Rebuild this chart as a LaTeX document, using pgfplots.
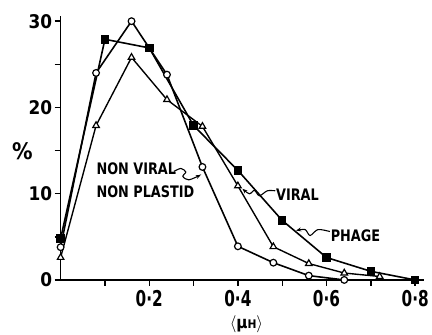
\documentclass[border=0pt]{standalone}
\usepackage{pgfplots}
\pgfplotsset{compat=1.18}
\usepackage{fontspec}
\setmainfont{DejaVu Sans Condensed}
\newfontfamily\annfont{DejaVu Sans Condensed}[FakeStretch=0.9]
\newfontfamily\xtfont{DejaVu Sans Condensed}[FakeStretch=0.78]
\usetikzlibrary{arrows.meta}

\begin{document}
\begin{tikzpicture}
\begin{axis}[name=ax, scale only axis, width=365.7bp, height=265.6bp,
  xmin=0, xmax=0.82, ymin=0, ymax=30.6,
  axis lines=left, axis line style={-, line width=1.6pt},
  tick style={line width=1.4pt, black}, tick align=outside,
  major tick length=6bp, minor tick length=6bp,
  xtick={0.2,0.4,0.6,0.8}, xticklabels={0·2,0·4,0·6,0·8},
  minor xtick={0.1,0.3,0.5,0.7},
  ytick={0,10,20,30}, yticklabels={0,10,20,30},
  minor ytick={5,15,25},
  yticklabel style={font=\fontsize{19}{19}\selectfont\bfseries, xshift=1bp},
  xticklabel style={font=\xtfont\fontsize{22}{22}\selectfont\bfseries, yshift=-1bp},
  clip=false]
\addplot[black, line width=1.6pt, mark=square*, mark size=3.5pt, mark options={fill=black, solid}]
  coordinates {(0,4.8) (0.10,27.9) (0.20,26.9) (0.30,17.9) (0.40,12.7) (0.50,6.9) (0.60,2.6) (0.70,1.0) (0.80,0)};
\addplot[black, line width=1.4pt, mark=triangle*, mark size=3.8pt, mark options={fill=white, line width=1.2pt}]
  coordinates {(0,2.6) (0.08,17.9) (0.16,25.8) (0.24,20.9) (0.32,17.8) (0.40,10.9) (0.48,3.85) (0.56,1.9) (0.64,0.8) (0.72,0.4)};
\addplot[black, line width=1.6pt, mark=*, mark size=3.4pt, mark options={fill=white, line width=1.2pt}]
  coordinates {(0,3.8) (0.08,24.0) (0.16,30.0) (0.24,23.8) (0.32,13.1) (0.40,3.9) (0.48,2.0) (0.56,0.5) (0.64,0)};
\end{axis}
\begin{scope}[shift={(ax.origin)}, shift={(-61bp,281.7bp)}, x=1bp, y=-1bp]
  \path (0,0) rectangle (432,337);
  \node[font=\fontsize{23}{23}\selectfont\bfseries] at (22.5,152) {\%};
  \node[font=\fontsize{17}{17}\selectfont\bfseries, inner sep=0pt] at (248,326.5) {$\langle$μ{\fontsize{12}{12}\selectfont H}$\rangle$};
  \node[anchor=base west, inner sep=0pt, font=\annfont\fontsize{16}{16}\selectfont\bfseries] at (97,176) {NON VIRAL};
  \node[anchor=base west, inner sep=0pt, font=\annfont\fontsize{16}{16}\selectfont\bfseries] at (97,198.3) {NON PLASTID};
  \node[anchor=base west, inner sep=0pt, font=\annfont\fontsize{16}{16}\selectfont\bfseries] at (277.7,201.7) {VIRAL};
  \node[anchor=base west, inner sep=0pt, font=\annfont\fontsize{16}{16}\selectfont\bfseries] at (332.7,243.3) {PHAGE};
  \draw[line width=1.1pt, -{Stealth[length=5bp,width=4bp]}] plot[smooth] coordinates {(175,172.5) (182,169.5) (187,173) (184,177.5) (190,181) (202,176)};
  \draw[line width=1.1pt, -{Stealth[length=5bp,width=4bp]}] plot[smooth] coordinates {(277,192) (269,192) (261,197) (256,191.5) (251,195) (244,190)};
  \draw[line width=1.1pt, -{Stealth[length=5bp,width=4bp]}] plot[smooth] coordinates {(332,233) (320,231) (312,237) (307,231) (298,232)};
\end{scope}
\end{tikzpicture}
\end{document}
